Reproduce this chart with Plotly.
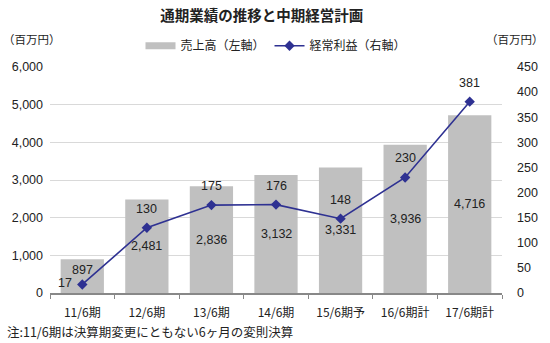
import plotly.graph_objects as go

categories = ["11/6期", "12/6期", "13/6期", "14/6期", "15/6期予", "16/6期計", "17/6期計"]
sales = [897, 2481, 2836, 3132, 3331, 3936, 4716]
profit = [17, 130, 175, 176, 148, 230, 381]
left_ticks = [0, 1000, 2000, 3000, 4000, 5000, 6000]
right_ticks = [0, 50, 100, 150, 200, 250, 300, 350, 400, 450]

FONT = "Liberation Sans, Noto Sans CJK JP, sans-serif"
JP = "Noto Sans CJK JP, sans-serif"
TXT = "#222222"
BAR = "#c0c0c0"
LINE = "#2e3192"

fig = go.Figure()
fig.add_trace(go.Bar(
    x=categories, y=sales, name="売上高（左軸）",
    marker=dict(color=BAR, line=dict(width=0)),
    showlegend=False, yaxis="y",
))
# legend entry for the bars drawn as a wide swatch
fig.add_trace(go.Scatter(
    x=[None], y=[None], name="売上高（左軸）", mode="lines",
    line=dict(color=BAR, width=7), yaxis="y",
))
fig.add_trace(go.Scatter(
    x=categories, y=profit, name="経常利益（右軸）", mode="lines+markers",
    line=dict(color=LINE, width=1.6),
    marker=dict(symbol="diamond", size=8, color=LINE),
    yaxis="y2",
))

# bar value labels (centered in bars)
for i, (c, v) in enumerate(zip(categories, sales)):
    fig.add_annotation(x=c, y=v / 2, yref="y", xref="x", text=f"{v:,}", showarrow=False,
                       yshift=6 if i == 0 else 0,
                       font=dict(family=FONT, size=12.5, color=TXT))

# line value labels
for i, (c, v) in enumerate(zip(categories, profit)):
    if i == 0:
        xs, ys = -17, 1
    else:
        xs, ys = 0, 19
    fig.add_annotation(x=c, y=v, yref="y2", xref="x", text=str(v), showarrow=False,
                       xshift=xs, yshift=ys,
                       font=dict(family=FONT, size=12.5, color=TXT))

fig.add_annotation(x=0, y=1.0, xref="paper", yref="paper", xanchor="left", yanchor="bottom",
                   text="（百万円）", showarrow=False, xshift=-49, yshift=18,
                   font=dict(family=JP, size=11.5, color=TXT))
fig.add_annotation(x=1, y=1.0, xref="paper", yref="paper", xanchor="right", yanchor="bottom",
                   text="（百万円）", showarrow=False, xshift=44, yshift=18,
                   font=dict(family=JP, size=11.5, color=TXT))
fig.add_annotation(x=0, y=0, xref="paper", yref="paper", xanchor="left", yanchor="middle",
                   text="注:11/6期は決算期変更にともない6ヶ月の変則決算", showarrow=False,
                   xshift=-44, yshift=-38, borderpad=0,
                   font=dict(family=JP, size=12.5, color=TXT))

fig.update_layout(
    width=550, height=343,
    margin=dict(l=46, r=44, t=67, b=50),
    paper_bgcolor="white", plot_bgcolor="white",
    title=dict(text="<b>通期業績の推移と中期経営計画</b>", x=0.476, xanchor="center",
               y=0.955, yanchor="middle",
               font=dict(family=JP, size=14.5, color=TXT)),
    showlegend=True,
    legend=dict(orientation="h", x=0.5, xanchor="center", y=1.03, yanchor="bottom",
                font=dict(family=JP, size=12, color=TXT),
                bgcolor="rgba(0,0,0,0)", itemwidth=30, tracegroupgap=0),
    bargap=0.33,
    xaxis=dict(showline=True, linecolor="#888888", linewidth=1.5,
               ticks="outside", tickson="boundaries", ticklen=4, tickcolor="#888888",
               tickfont=dict(family=JP, size=12, color=TXT),
               ticklabelstandoff=8, showgrid=False),
    yaxis=dict(range=[0, 6000], tickvals=left_ticks, tickformat=",",
               showgrid=True, gridcolor="#d9d9d9", gridwidth=1,
               zeroline=False, showline=False, ticks="",
               tickfont=dict(family=FONT, size=12.5, color=TXT),
               ticklabelstandoff=6),
    yaxis2=dict(range=[0, 450], tickvals=right_ticks, overlaying="y", side="right",
                showgrid=False, zeroline=False, showline=False, ticks="",
                tickfont=dict(family=FONT, size=12.5, color=TXT),
                ticklabelstandoff=14),
)

fig.write_html("out.html")
